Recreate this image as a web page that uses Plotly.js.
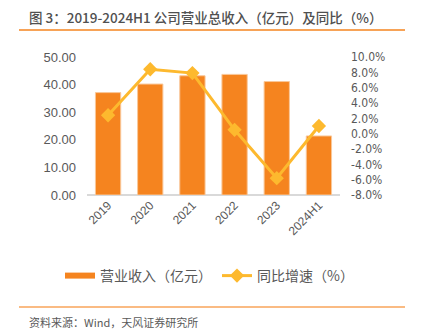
<!DOCTYPE html>
<html><head><meta charset="utf-8">
<script src="https://cdn.plot.ly/plotly-3.0.1.min.js"></script>
<style>html,body{margin:0;padding:0;background:#fff}#c{width:421px;height:336px}</style>
</head><body><div id="c"></div>
<script>
const categories = ['2019','2020','2021','2022','2023','2024H1'];
const revenue = [37.1, 40.2, 43.2, 43.7, 41.1, 21.4];
const growth = [2.4, 8.4, 7.9, 0.5, -5.8, 1.0];
const leftTicks = [0,10,20,30,40,50];
const leftTickText = ['0.00','10.00','20.00','30.00','40.00','50.00'];
const rightTicks = [-8,-6,-4,-2,0,2,4,6,8,10];
const rightTickText = ['-8.0%','-6.0%','-4.0%','-2.0%','0.0%','2.0%','4.0%','6.0%','8.0%','10.0%'];

const W=421,H=336;
const px = x => x/W, py = y => 1 - y/H;
const gray = '#595959';
const cjk = '"Noto Sans CJK SC", "Liberation Sans", Arial, sans-serif';
const num = '"Liberation Sans", Arial, "DejaVu Sans", sans-serif';

const traces = [
 {type:'bar', name:'营业收入（亿元）', x:categories, y:revenue, yaxis:'y', showlegend:false,
  marker:{color:'#F5841F', line:{color:'#F9C89A', width:1}}, width:0.6},
 {type:'scatter', mode:'lines', name:'营业收入（亿元）', x:[null], y:[null], yaxis:'y',
  line:{color:'#F5841F', width:6}, hoverinfo:'skip'},
 {type:'scatter', mode:'lines+markers', name:'同比增速（%）', x:categories, y:growth, yaxis:'y2',
  line:{color:'#FDB92E', width:3}, marker:{symbol:'diamond', size:11, color:'#FDB92E'}}
];
const layout = {
 width:W, height:H, margin:{l:0,r:0,t:0,b:0}, paper_bgcolor:'#fff', plot_bgcolor:'#fff',
 showlegend:true,
 font:{family:cjk, color:gray},
 xaxis:{domain:[px(87),px(340)], type:'category', categoryarray:categories, tickangle:-45, showgrid:false, showline:false,
   zeroline:false, ticks:'', tickfont:{family:num,size:12,color:gray}, automargin:false},
 yaxis:{domain:[py(195),py(57)], range:[0,50], tickvals:leftTicks, ticktext:leftTickText, showgrid:false,
   zeroline:true, zerolinecolor:'#d9d9d9', zerolinewidth:1.5, showline:false, ticks:'', ticklabelstandoff:10,
   tickfont:{family:num,size:13,color:gray}, automargin:false},
 yaxis2:{overlaying:'y', side:'right', range:[-8,10], tickvals:rightTicks, ticktext:rightTickText,
   showgrid:false, zeroline:false, showline:false, ticks:'', ticklabelstandoff:10,
   tickfont:{family:'"Liberation Sans Narrow", "DejaVu Sans Condensed", Arial, sans-serif',size:12,color:gray}, automargin:false},
 legend:{orientation:'h', x:px(60), xanchor:'left', y:py(276), yanchor:'middle',
   font:{family:cjk,size:14,color:gray}, itemwidth:30, traceorder:'normal'},
 annotations:[
  {xref:'paper',yref:'paper',x:px(27),y:py(17),xanchor:'left',yanchor:'middle',showarrow:false,
   text:'图 3：2019-2024H1 公司营业总收入（亿元）及同比（%）', font:{family:cjk,size:13.5,color:'#505050',weight:500}},
  {xref:'paper',yref:'paper',x:px(27),y:py(322),xanchor:'left',yanchor:'middle',showarrow:false,
   text:'资料来源：Wind，天风证券研究所', font:{family:cjk,size:11,color:gray}}
 ],
 shapes:[
  {type:'line',xref:'paper',yref:'paper',x0:px(19),x1:px(405),y0:py(30),y1:py(30),line:{color:'#F5841F',width:1.5}},
  {type:'line',xref:'paper',yref:'paper',x0:px(19),x1:px(405),y0:py(307),y1:py(307),line:{color:'#F8A45A',width:1.5}}
 ]
};
Plotly.newPlot('c', traces, layout, {displayModeBar:false, staticPlot:true});
</script></body></html>
